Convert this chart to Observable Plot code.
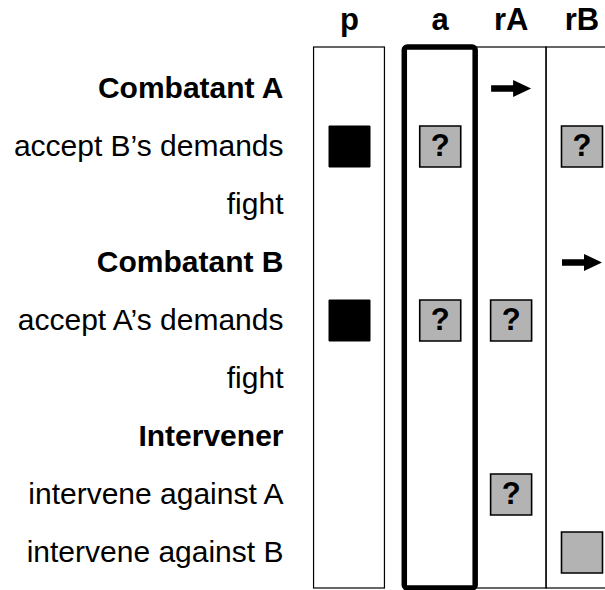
<!DOCTYPE html>
<html>
<head>
<meta charset="utf-8">
<script src="https://cdn.jsdelivr.net/npm/d3@7"></script>
<script src="https://cdn.jsdelivr.net/npm/@observablehq/plot@0.6"></script>
<style>
  html, body { margin: 0; padding: 0; background: #fff; }
  #chart svg { display: block; }
</style>
</head>
<body>
<div id="chart"></div>
<script>
// ---- data ----
const columns = ["p", "a", "rA", "rB"];
const rows = [
  "Combatant A",
  "accept B\u2019s demands",
  "fight",
  "Combatant B",
  "accept A\u2019s demands",
  "fight",
  "Intervener",
  "intervene against A",
  "intervene against B"
];
const sectionRows = ["Combatant A", "Combatant B", "Intervener"];
const highlightColumn = "a";
const filledCells   = [{col: "p", row: 1}, {col: "p", row: 4}];
const questionCells = [{col: "a", row: 1}, {col: "rB", row: 1}, {col: "a", row: 4}, {col: "rA", row: 4}, {col: "rA", row: 7}];
const grayCells     = [{col: "rB", row: 8}];
const arrowCells    = [{col: "rA", row: 0}, {col: "rB", row: 3}];

// ---- layout helpers ----
const GAP = 0.28; // extra space after the first column (in column units)
const xPos = c => columns.indexOf(c) + (c === "p" ? 0 : GAP);
const rowData = rows.map((label, i) => ({label, i, bold: sectionRows.includes(label)}));
const FONT = "Liberation Sans, Arial, Helvetica, sans-serif";
const GRAY = "#b3b3b3";
const SQ_R = 41 / Math.sqrt(Math.PI);

const arrowSymbol = {
  draw(ctx, size) {
    const r = Math.sqrt(size / Math.PI);
    const t = 0.16 * r, h = 0.43 * r, k = 0.1 * r;
    ctx.moveTo(-r, -t);
    ctx.lineTo(k, -t);
    ctx.lineTo(k, -h);
    ctx.lineTo(r, 0);
    ctx.lineTo(k, h);
    ctx.lineTo(k, t);
    ctx.lineTo(-r, t);
    ctx.closePath();
  }
};

const boxOpts = {
  x1: c => xPos(c) - 0.5,
  x2: c => xPos(c) + 0.5,
  y1: () => 0,
  y2: () => rows.length - 1,
  insetTop: -41,
  insetBottom: -36,
  fill: "none",
  stroke: "black"
};

const chart = Plot.plot({
  width: 605,
  height: 590,
  margin: 0,
  style: {fontFamily: FONT, background: "white"},
  x: {domain: [0, columns.length - 1 + GAP], range: [349, 581.5], axis: null},
  y: {domain: [0, rows.length - 1], range: [88, 552], axis: null},
  marks: [
    Plot.rect(columns.filter(c => c !== highlightColumn), {...boxOpts, strokeWidth: 1.2}),
    Plot.rect([highlightColumn], {...boxOpts, strokeWidth: 5.5, rx: 3}),
    Plot.dot(filledCells, {x: d => xPos(d.col), y: "row", symbol: "square", r: SQ_R, fill: "black", stroke: "black", strokeWidth: 1}),
    Plot.dot(questionCells.concat(grayCells), {x: d => xPos(d.col), y: "row", symbol: "square", r: SQ_R, fill: GRAY, stroke: "black", strokeWidth: 1.6}),
    Plot.text(questionCells, {x: d => xPos(d.col), y: "row", text: () => "?", fontSize: 31, fontWeight: "bold", fill: "black", fontFamily: FONT}),
    Plot.dot(arrowCells, {x: d => xPos(d.col), y: "row", symbol: arrowSymbol, r: 20, fill: "black", stroke: "none"}),
    Plot.text(columns, {x: xPos, frameAnchor: "top", lineAnchor: "middle", dy: 20, text: d => d, fontSize: 31, fontWeight: "bold", fill: "black", fontFamily: FONT}),
    Plot.text(rowData.filter(d => d.bold), {y: "i", text: "label", frameAnchor: "left", dx: 283, textAnchor: "end", fontSize: 30, fontWeight: "bold", fill: "black", fontFamily: FONT}),
    Plot.text(rowData.filter(d => !d.bold), {y: "i", text: "label", frameAnchor: "left", dx: 283, textAnchor: "end", fontSize: 30, fill: "black", fontFamily: FONT})
  ]
});
document.getElementById("chart").appendChild(chart);
</script>
</body>
</html>
